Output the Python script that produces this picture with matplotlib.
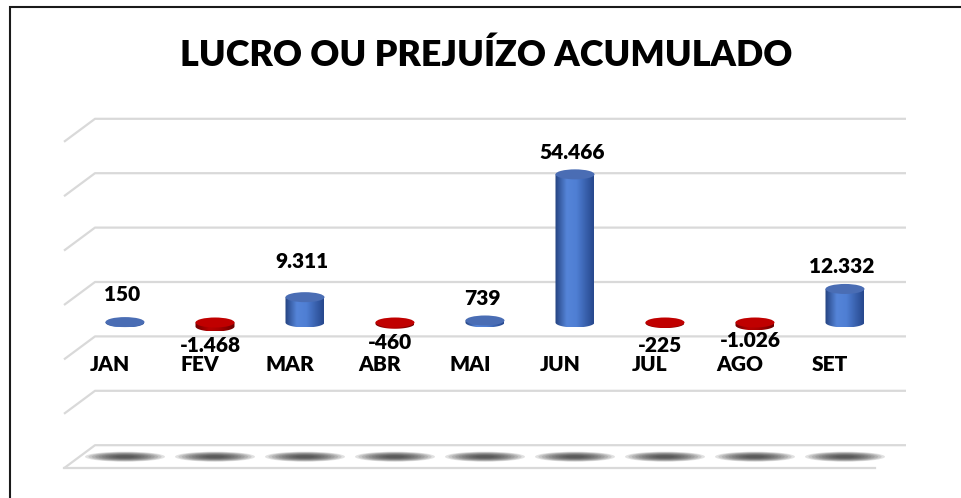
import numpy as np
import matplotlib.pyplot as plt
from matplotlib.patches import Ellipse, PathPatch, Rectangle
from matplotlib.path import Path
from matplotlib.colors import LinearSegmentedColormap

meses = ['JAN', 'FEV', 'MAR', 'ABR', 'MAI', 'JUN', 'JUL', 'AGO', 'SET']
valores = [150, -1468, 9311, -460, 739, 54466, -225, -1026, 12332]
titulo = 'LUCRO OU PREJUÍZO ACUMULADO'
grade = [60000, 40000, 20000, 0, -20000, -40000, -60000]

W, H = 961, 498
X0, DX = 125, 90        # pixel of first category, spacing between categories
Y0, PPK = 322.5, 2.72   # pixel row of zero, pixels per 1000

# a few labels were dragged by hand in the original (pixels)
ajuste = {0: 6, 2: 14, 6: -3, 7: 4}


def px_x(n):
    return n / DX


def px_y(n):
    return n / PPK * 1000


plt.rcParams['font.family'] = ['Lato', 'DejaVu Sans']
peso = 'heavy'

fig = plt.figure(figsize=(W / 100, H / 100), dpi=100)
ax = fig.add_axes([0, 0, 1, 1])
ax.axis('off')

# back wall / floor (3d look)
fundo = px_y(40.5)
diag_x, diag_y = px_x(-31), px_y(-23)
x_ini, x_fim = px_x(95 - X0), px_x(906 - X0)
cinza = '#d9d9d9'
for t in grade:
    y = t + fundo
    ax.plot([x_ini + diag_x, x_ini, x_fim], [y + diag_y, y, y],
            color=cinza, lw=1.6, solid_capstyle='butt', zorder=1)
piso = grade[-1] + fundo
ax.plot([x_ini + diag_x, x_fim + diag_x], [piso + diag_y] * 2,
        color=cinza, lw=1.6, zorder=1)

# soft shadows on the floor
for i in range(len(meses)):
    for k in range(10):
        f = 1 - k * 0.085
        ax.add_patch(Ellipse((i, piso + diag_y / 2), px_x(80) * f, px_y(10) * f,
                             color='#303030', alpha=0.14, lw=0, zorder=2))

azul = LinearSegmentedColormap.from_list('azul', [(0, '#24427f'), (0.3, '#5584d8'),
                                                  (0.55, '#4f7fd4'), (1, '#26478c')])
vermelho = LinearSegmentedColormap.from_list('verm', [(0, '#6e0000'), (0.35, '#b80000'),
                                                      (0.6, '#a80000'), (1, '#6a0000')])
rx, ry = px_x(19.5), px_y(5)


def cilindro(x, v):
    topo, base = max(v, 0), min(v, 0)
    cm = azul if v >= 0 else vermelho
    th = np.linspace(np.pi, 2 * np.pi, 50)
    verts = [(x - rx, topo)] + list(zip(x + rx * np.cos(th), base + ry * np.sin(th)))
    verts += [(x + rx, topo), (x - rx, topo)]
    patch = PathPatch(Path(verts), fc='none', lw=0)
    ax.add_patch(patch)
    grad = np.linspace(0, 1, 256).reshape(1, -1)
    im = ax.imshow(grad, cmap=cm, extent=[x - rx, x + rx, base - ry, topo],
                   aspect='auto', interpolation='bicubic', zorder=3)
    im.set_clip_path(patch)
    cor_topo = '#4a6db4' if v >= 0 else '#c00000'
    ax.add_patch(Ellipse((x, topo), 2 * rx, 2 * ry, fc=cor_topo, ec='none', zorder=4))


for i, v in enumerate(valores):
    cilindro(i, v)
    txt = f'{v:,}'.replace(',', '.')
    dy = ajuste.get(i, 0)
    if v >= 0:
        ax.annotate(txt, (i, v), xytext=(-3, 22 + dy), textcoords='offset pixels',
                    ha='center', va='center', fontsize=15, fontweight=peso)
    else:
        ax.annotate(txt, (i, v), xytext=(-5, -19 + dy), textcoords='offset pixels',
                    ha='center', va='center', fontsize=15, fontweight=peso)
    ax.annotate(meses[i], (i, 0), xytext=(-15, -42), textcoords='offset pixels',
                ha='center', va='center', fontsize=15, fontweight=peso)

ax.set_xlim(-X0 / DX, (W - X0) / DX)
ax.set_ylim(-(H - Y0) / PPK * 1000, Y0 / PPK * 1000)

fig.text(486 / W, 1 - 55 / H, titulo, ha='center', va='center',
         fontsize=25.8, fontweight=peso)
fig.add_artist(Rectangle((9.5 / W, -0.1), 1.2, (H - 7.5) / H + 0.1, fill=False,
                         ec='#1a1a1a', lw=1.5, transform=fig.transFigure))

fig.savefig('out.png', dpi=100, facecolor='white')
